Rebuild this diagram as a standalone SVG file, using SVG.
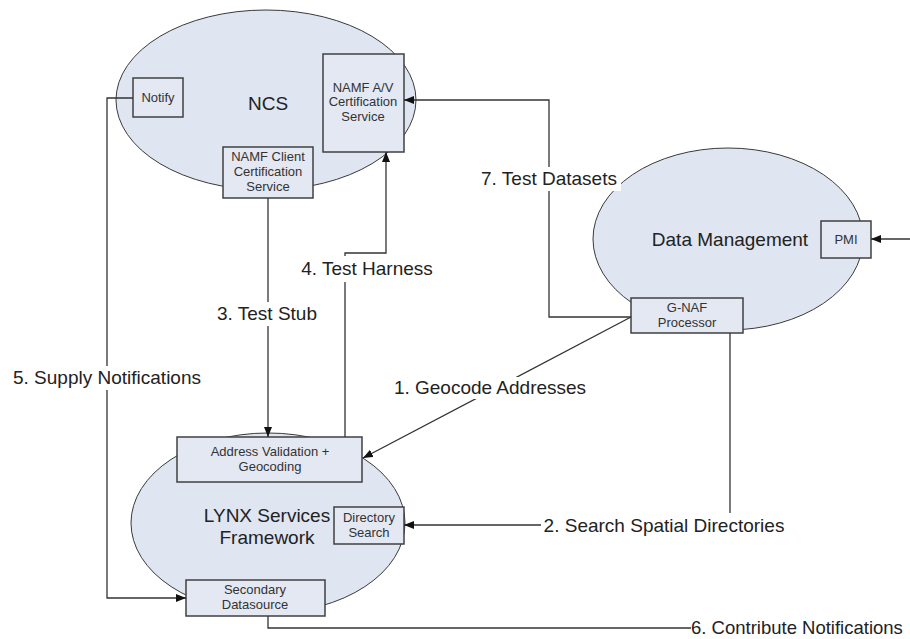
<svg xmlns="http://www.w3.org/2000/svg" width="910" height="639" viewBox="0 0 910 639">
<style>
.ell{fill:#dfe5f1;stroke:#3a3a3a;stroke-width:1}
.box{fill:#e3e8f3;stroke:#404040;stroke-width:1.5}
.big{font-family:"Liberation Sans",Arial,sans-serif;font-size:19px;fill:#222;text-anchor:middle}
.sm{font-family:"Liberation Sans",Arial,sans-serif;font-size:13px;fill:#333;text-anchor:middle}
.lbl{font-family:"Liberation Sans",Arial,sans-serif;font-size:19px;fill:#222;text-anchor:middle}
.con{fill:none;stroke:#333;stroke-width:1.3}
.bg{fill:#fff}
</style>
<defs>
<marker id="arr" markerUnits="userSpaceOnUse" markerWidth="10" markerHeight="8" refX="10" refY="4" orient="auto">
<path d="M0,0 L10,4 L0,8 z" fill="#111"/>
</marker>
</defs>
<rect width="910" height="639" fill="#fff"/>

<g id="ncs">
<ellipse class="ell" cx="266" cy="100" rx="150" ry="90"/>
<text class="big" x="268" y="110">NCS</text>
</g>
<g id="data-management">
<ellipse class="ell" cx="728" cy="239" rx="135" ry="91"/>
<text class="big" x="730" y="246">Data Management</text>
</g>
<g id="lynx">
<ellipse class="ell" cx="268" cy="523" rx="137" ry="90"/>
<text class="big" x="267" y="522">LYNX Services</text>
<text class="big" x="267" y="544">Framework</text>
</g>

<g id="notify">
<rect class="box" x="133" y="78" width="50" height="39"/>
<text class="sm" x="158" y="102">Notify</text>
</g>
<g id="namf-av">
<rect class="box" x="323" y="54" width="81" height="98"/>
<text class="sm" x="363" y="92">NAMF A/V</text>
<text class="sm" x="363" y="106">Certification</text>
<text class="sm" x="363" y="121">Service</text>
</g>
<g id="namf-client">
<rect class="box" x="223" y="147" width="90" height="51"/>
<text class="sm" x="268" y="161">NAMF Client</text>
<text class="sm" x="268" y="176">Certification</text>
<text class="sm" x="268" y="191">Service</text>
</g>
<g id="pmi">
<rect class="box" x="821" y="221" width="50" height="37"/>
<text class="sm" x="846" y="244">PMI</text>
</g>
<g id="gnaf">
<rect class="box" x="631" y="298" width="112" height="35"/>
<text class="sm" x="687" y="312">G-NAF</text>
<text class="sm" x="687" y="327">Processor</text>
</g>
<g id="address-validation">
<rect class="box" x="177" y="437" width="185" height="45"/>
<text class="sm" x="270" y="456">Address Validation +</text>
<text class="sm" x="270" y="471">Geocoding</text>
</g>
<g id="directory-search">
<rect class="box" x="334" y="507" width="70" height="37"/>
<text class="sm" x="369" y="522">Directory</text>
<text class="sm" x="369" y="537">Search</text>
</g>
<g id="secondary-datasource">
<rect class="box" x="186" y="580" width="139" height="36"/>
<text class="sm" x="255" y="594">Secondary</text>
<text class="sm" x="255" y="609">Datasource</text>
</g>

<g id="connectors">
<path class="con" d="M631,317 L363,458" marker-end="url(#arr)"/>
<path class="con" d="M730,333 V525 H404" marker-end="url(#arr)"/>
<path class="con" d="M268,198 V437" marker-end="url(#arr)"/>
<path class="con" d="M345,437 V253 H386 V152" marker-end="url(#arr)"/>
<path class="con" d="M133,98 H107 V598 H186" marker-end="url(#arr)"/>
<path class="con" d="M268,616 V628 H691"/>
<path class="con" d="M631,317 H549 V100 H404" marker-end="url(#arr)"/>
<path class="con" d="M910,239 H871" marker-end="url(#arr)"/>

<rect class="bg" x="386" y="377" width="208" height="22"/>
<text class="lbl" x="490" y="394">1. Geocode Addresses</text>
<rect class="bg" x="541" y="513" width="247" height="24"/>
<text class="lbl" x="664" y="532">2. Search Spatial Directories</text>
<rect class="bg" x="212" y="302" width="112" height="24"/>
<text class="lbl" x="267" y="320">3. Test Stub</text>
<rect class="bg" x="299" y="256" width="137" height="26"/>
<text class="lbl" x="367" y="275">4. Test Harness</text>
<rect class="bg" x="11" y="366" width="192" height="24"/>
<text class="lbl" x="107" y="384">5. Supply Notifications</text>
<text class="lbl" x="691" y="634" style="text-anchor:start;font-size:18.5px">6. Contribute Notifications</text>
<rect class="bg" x="477" y="167" width="144" height="24"/>
<text class="lbl" x="549" y="185">7. Test Datasets</text>
</g>
</svg>
